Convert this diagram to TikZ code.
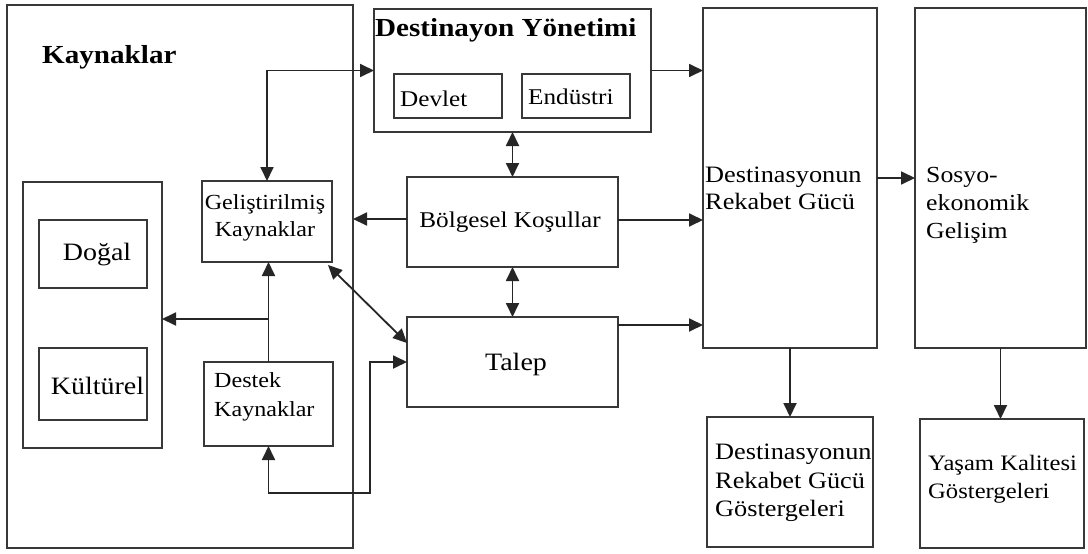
\documentclass[tikz,border=0pt]{standalone}
\usepackage{fontspec}
\setmainfont{Liberation Serif}[FakeStretch=1.12]
\usetikzlibrary{arrows.meta}
\begin{document}
\begin{tikzpicture}[x=1pt,y=-1pt,
 box/.style={draw=black!78, line width=1.7pt, rectangle, inner sep=0pt, outer sep=0pt},
 txt/.style={inner sep=0pt, font=\fontsize{22.5}{27.5}\selectfont, align=left},
 big/.style={inner sep=0pt, font=\fontsize{25}{30}\selectfont},
 ttl/.style={inner sep=0pt, font=\fontsize{26}{30}\selectfont\bfseries},
 con/.style={draw=black!85, line width=1.8pt},
 arr/.style={con, -{Triangle[length=14pt,width=13pt]}},
 dbl/.style={con, {Triangle[length=14pt,width=13pt]}-{Triangle[length=14pt,width=13pt]}},
]
\useasboundingbox (0,0) rectangle (1088,554);
\fill[white] (0,0) rectangle (1088,554);
% boxes
\node[box, minimum width=346pt, minimum height=543pt] (K) at (180,276.5) {};
\node[box, minimum width=139pt, minimum height=266pt] (in) at (92.5,315) {};
\node[box, minimum width=108pt, minimum height=68pt] (dogal) at (93,254) {};
\node[box, minimum width=108pt, minimum height=72pt] (kult) at (93,384) {};
\node[box, minimum width=130pt, minimum height=81pt] (gel) at (267,221.5) {};
\node[box, minimum width=129pt, minimum height=84pt] (destek) at (268.5,404) {};
\node[box, minimum width=277pt, minimum height=123pt] (DY) at (512.5,70.5) {};
\node[box, minimum width=108pt, minimum height=44pt] (devlet) at (448,96) {};
\node[box, minimum width=108pt, minimum height=44pt] (endustri) at (576,96) {};
\node[box, minimum width=211pt, minimum height=90pt] (bolg) at (512.5,222) {};
\node[box, minimum width=211pt, minimum height=90pt] (talep) at (512.5,362) {};
\node[box, minimum width=174pt, minimum height=340pt] (DRG) at (790,178) {};
\node[box, minimum width=171pt, minimum height=340pt] (sosyo) at (1000.5,178) {};
\node[box, minimum width=166pt, minimum height=130pt] (DRGG) at (790,482) {};
\node[box, minimum width=164pt, minimum height=129pt] (yasam) at (1002,483.5) {};
% texts
\node[ttl, anchor=west] (tK) at (42,57) {Kaynaklar};
\node[ttl, anchor=west] (tDY) at (375,30) {Destinayon Yönetimi};
\node[txt, anchor=west] (tdev) at (400,99) {Devlet};
\node[txt, anchor=west] (tend) at (528,97) {Endüstri};
\node[big] (tdog) at (97,255) {Doğal};
\node[big] (tkul) at (97.5,386) {Kültürel};
\node[txt, align=center, font=\fontsize{21.5}{27.5}\selectfont] (tgel) at (265,218) {Geliştirilmiş\\Kaynaklar};
\node[txt, anchor=west, font=\fontsize{21.5}{28.5}\selectfont] (tdes) at (214,397) {Destek\\Kaynaklar};
\node[txt] (tbolg) at (510,222) {Bölgesel Koşullar};
\node[big] (ttal) at (516,364) {Talep};
\node[txt, anchor=west, font=\fontsize{23.5}{27}\selectfont] (tDRG) at (705,188) {Destinasyonun\\Rekabet Gücü};
\node[txt, anchor=west, font=\fontsize{23}{28}\selectfont] (tsos) at (926,205) {Sosyo-\\ekonomik\\Gelişim};
\node[txt, anchor=west, font=\fontsize{23.5}{28.5}\selectfont] (tDRGG) at (715,483) {Destinasyonun\\Rekabet Gücü\\Göstergeleri};
\node[txt, anchor=west, font=\fontsize{22}{28}\selectfont] (tyas) at (928,479) {Yaşam Kalitesi\\Göstergeleri};
% connectors
\draw[dbl] (gel.north) |- (DY.west);
\draw[arr] (destek.north) -- (destek.north |- gel.south);
\coordinate (br) at (268.5,319);
\draw[arr] (br) -- (br -| in.east);
\draw[arr] ([yshift=3pt]bolg.west) -- ([yshift=3pt]bolg.west -| K.east);
\draw[dbl] (DY.south) -- (bolg.north);
\draw[dbl] (bolg.south) -- (talep.north);
\draw[arr] (DY.east) -- (DY.east -| DRG.west);
\draw[arr] ([yshift=2pt]bolg.east) -- ([yshift=2pt]bolg.east -| DRG.west);
\draw[arr] ([yshift=-8pt]talep.north east) -- ([yshift=-8pt]talep.north east -| DRG.west);
\draw[dbl] ([xshift=-4pt,yshift=-3pt]gel.south east) -- ([yshift=19pt]talep.west);
\coordinate (c1) at (370,493);
\draw[dbl] (destek.south) |- (c1) |- (talep.west);
\draw[arr] (DRG.east) -- (DRG.east -| sosyo.west);
\draw[arr] (DRG.south) -- (DRGG.north);
\draw[arr] (sosyo.south) -- (sosyo.south |- yasam.north);
\end{tikzpicture}
\end{document}
